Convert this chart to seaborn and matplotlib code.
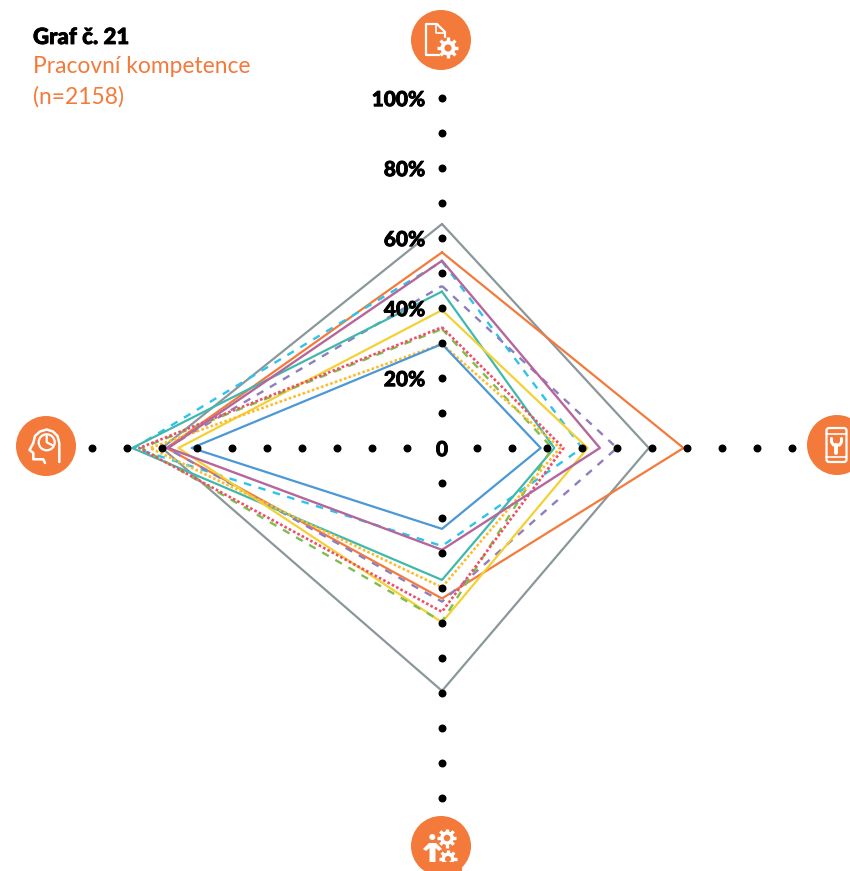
import numpy as np
import pandas as pd
import matplotlib.pyplot as plt
import matplotlib.patheffects as pe
from matplotlib.patches import Circle, FancyBboxPatch, Polygon
import seaborn as sns

# order of the axes: top, right, bottom, left (clockwise)
axis_angles = [0, 90, 180, 270]
radial_ticks = [10, 20, 30, 40, 50, 60, 70, 80, 90, 100]
tick_labels = ['20%', '40%', '60%', '80%', '100%']
tick_label_pos = [20, 40, 60, 80, 100]

series_names = ['gray', 'orange', 'cyan', 'purple', 'teal', 'yellow', 'green', 'red', 'amber', 'blue', 'pink']
gray = [64, 59.1, 69.4, 80]
orange = [55.9, 69, 43, 78.7]
cyan = [53.3, 40, 28, 88]
purple = [46.3, 50, 43.9, 78.7]
teal = [44.7, 32.1, 37.7, 88.5]
yellow = [39.4, 41.6, 49.8, 75.3]
green = [34, 31.5, 49.6, 85.8]
red = [34.5, 34.7, 46.8, 86.5]
amber = [29.7, 33.7, 39.8, 83.4]
blue = [29.7, 28.2, 23.1, 71.5]
pink = [53.5, 45.1, 29.1, 78.2]
series_values = [gray, orange, cyan, purple, teal, yellow, green, red, amber, blue, pink]

palette = {'gray': '#8a979b', 'orange': '#f47a3c', 'cyan': '#2cc3ec', 'purple': '#8f7dbd',
           'teal': '#3fb8ae', 'yellow': '#f5d033', 'green': '#7fbd4f', 'red': '#ee4f68',
           'amber': '#fdbc2c', 'blue': '#4b98d6', 'pink': '#b5669a'}
solid = ''
dash = (3.2, 3.2)
dots = (1, 0.85)
dash_map = {'gray': solid, 'orange': solid, 'cyan': dash, 'purple': dash, 'teal': solid, 'yellow': solid,
            'green': dash, 'red': dots, 'amber': dots, 'blue': solid, 'pink': solid}
width_map = {'gray': 1.6, 'orange': 1.6, 'cyan': 1.7, 'purple': 1.7, 'teal': 1.6, 'yellow': 1.6,
             'green': 1.7, 'red': 1.9, 'amber': 1.9, 'blue': 1.6, 'pink': 1.7}

ORANGE = '#f47a3c'
W, H = 850, 871
CX, CY, R = 442, 448, 420

rows = []
for name, vals in zip(series_names, series_values):
    # close the shape by going back to the top axis
    for a, v in zip(axis_angles + [360], vals + [vals[0]]):
        rows.append({'series': name, 'theta': np.deg2rad(a), 'value': v})
df = pd.DataFrame(rows)
dots_df = pd.DataFrame([{'theta': np.deg2rad(a), 'r': r} for a in axis_angles for r in radial_ticks])

sns.set_theme(style='white')
plt.rcParams['font.family'] = ['Lato', 'DejaVu Sans']

fig = plt.figure(figsize=(W / 100, H / 100), dpi=100)
ax = fig.add_axes([(CX - R) / W, (H - CY - R) / H, 2 * R / W, 2 * R / H], projection='polar')
ax.set_theta_zero_location('N')
ax.set_theta_direction(-1)

sns.lineplot(data=df, x='theta', y='value', hue='series', style='series', size='series', palette=palette,
             dashes=dash_map, sizes=width_map, hue_order=series_names, style_order=series_names,
             size_order=series_names, sort=False, estimator=None, units='series', legend=False, ax=ax)
for line in ax.get_lines():
    line.set_dash_capstyle('butt')
sns.scatterplot(data=dots_df, x='theta', y='r', color='black', s=33, linewidth=0, zorder=5, legend=False, ax=ax)
ax.set_rlim(0, 120)
ax.set_axis_off()

heavy = [pe.withStroke(linewidth=0.6, foreground='black')]
for pos, lab in zip(tick_label_pos, tick_labels):
    ax.annotate(lab, xy=(0, pos), xytext=(-12, -1.2), textcoords='offset points', ha='right', va='center',
                fontsize=15, fontweight='black', color='black', zorder=6, path_effects=heavy)
ax.annotate('0', xy=(0, 0), xytext=(0, -1.2), textcoords='offset points', ha='center', va='center',
            fontsize=15, fontweight='black', color='black', zorder=6, path_effects=heavy)

# overlay in pixel coordinates for the title and the icons
ov = fig.add_axes([0, 0, 1, 1])
ov.set_xlim(0, W)
ov.set_ylim(H, 0)
ov.axis('off')
ov.patch.set_alpha(0)

ov.text(33, 37.5, 'Graf č. 21', fontsize=16, fontweight='black', color='black', va='center', path_effects=heavy)
ov.text(33, 66.5, 'Pracovní kompetence', fontsize=16.4, color=ORANGE, va='center')
ov.text(33, 96.5, '(n=2158)', fontsize=16.4, color=ORANGE, va='center')


def gear(cx, cy, r, lw=1.6):
    for t in np.arange(0, np.pi, np.pi / 4):
        dx, dy = r * np.cos(t), r * np.sin(t)
        ov.plot([cx - dx, cx + dx], [cy - dy, cy + dy], color='white', lw=lw + 0.8, solid_capstyle='butt', zorder=3)
    ov.add_patch(Circle((cx, cy), r * 0.72, fc='white', ec='none', zorder=3))
    ov.add_patch(Circle((cx, cy), r * 0.34, fc=ORANGE, ec='none', zorder=4))


def stroke(pts, lw=1.6):
    xs, ys = zip(*pts)
    ov.plot(xs, ys, color='white', lw=lw, solid_joinstyle='round', solid_capstyle='round', zorder=3)


for c in [(441, 40), (46, 446), (837, 445), (441, 846)]:
    ov.add_patch(Circle(c, 30, fc=ORANGE, ec='none', zorder=2))

# document and gear
stroke([(439, 55), (426, 55), (426, 24), (437, 24), (445, 32), (445, 37)])
stroke([(436, 24), (436, 33), (445, 33)], lw=1.2)
gear(448, 48, 10.5)

# head with a pie chart
stroke([(59.3, 462), (59.3, 443), (57.5, 436), (53, 431.5), (46.7, 429.5), (40, 431.5), (35, 436), (33.3, 443),
        (29.5, 450), (33.3, 453), (33.3, 459.3), (43.3, 459.3), (45, 463)], lw=1.8)
ov.add_patch(Circle((46.7, 442.3), 8, fc='none', ec='white', lw=1.6, zorder=3))
stroke([(46.7, 436), (46.7, 442.3), (52, 445)], lw=1.6)

# phone with a wrench
ov.add_patch(FancyBboxPatch((826.5, 428), 20, 34, boxstyle='round,pad=0,rounding_size=2.5', fc='none', ec='white',
                            lw=1.6, zorder=3))
stroke([(826.5, 433.5), (846.5, 433.5)], lw=1.2)
stroke([(826.5, 456.5), (846.5, 456.5)], lw=1.2)
stroke([(831.5, 438.5), (831.5, 442), (833.5, 445), (839.5, 445), (841.5, 442), (841.5, 438.5)], lw=2.2)
stroke([(836.5, 445), (836.5, 453)], lw=2.8)

# person and gears
ov.add_patch(Circle((432.3, 837), 3, fc='white', ec='none', zorder=3))
ov.add_patch(Polygon([(423, 849), (429, 843), (436, 843), (442, 849), (439, 851), (435.5, 848), (435.5, 862),
                      (429.5, 862), (429.5, 848), (426, 851)], fc='white', ec='none', zorder=3))
gear(447, 838, 9.5)
gear(448, 859, 9)
ov.add_patch(Polygon([(436, 862), (462, 862), (462, 871), (436, 871)], fc=ORANGE, ec='none', zorder=5))

plt.savefig('out.png', dpi=100)
